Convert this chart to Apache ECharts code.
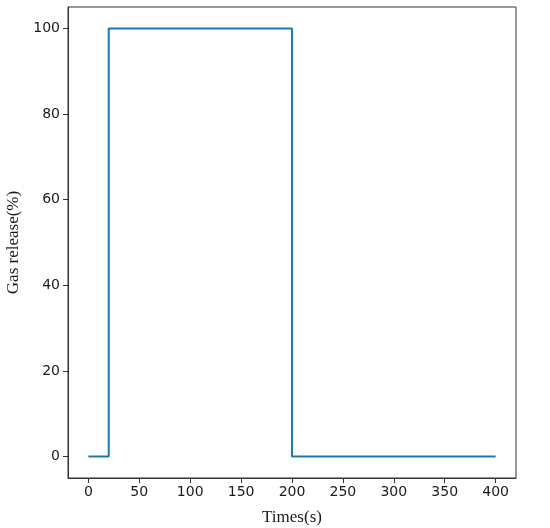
<!DOCTYPE html>
<html>
<head>
<meta charset="utf-8">
<script src="https://cdn.jsdelivr.net/npm/echarts@6/dist/echarts.min.js"></script>
<style>
  html, body { margin: 0; padding: 0; background: #fff; }
  #chart { width: 550px; height: 528px; }
</style>
</head>
<body>
<div id="chart"></div>
<script>
// step profile of the gas release
const times = [0, 20, 20, 200, 200, 400];
const release = [0, 0, 100, 100, 0, 0];
const xTicks = [0, 50, 100, 150, 200, 250, 300, 350, 400];
const yTicks = [0, 20, 40, 60, 80, 100];

const chart = echarts.init(document.getElementById('chart'));

const tickFont = { fontFamily: 'DejaVu Sans', fontSize: 14, color: '#1a1a1a' };
const nameFont = { fontFamily: 'Liberation Serif', fontSize: 17, color: '#1a1a1a' };

chart.setOption({
    animation: false,
    grid: {
        left: 68, right: 34, top: 7, bottom: 50,
        outerBoundsMode: 'none',
        containLabel: false,
        show: true, borderColor: '#333', borderWidth: 1
    },
    xAxis: {
        type: 'value',
        min: -20, max: 420,
        name: 'Times(s)',
        nameLocation: 'middle',
        nameGap: 31,
        nameTextStyle: nameFont,
        splitLine: { show: false },
        axisLine: { show: true, onZero: false, lineStyle: { color: '#333', width: 1 } },
        axisTick: { show: true, inside: false, length: 5, customValues: xTicks, lineStyle: { color: '#333' } },
        axisLabel: Object.assign({ margin: 7, customValues: xTicks }, tickFont)
    },
    yAxis: {
        type: 'value',
        min: -5, max: 105,
        name: 'Gas release(%)',
        nameLocation: 'middle',
        nameGap: 45,
        nameTextStyle: nameFont,
        splitLine: { show: false },
        axisLine: { show: true, onZero: false, lineStyle: { color: '#333', width: 1 } },
        axisTick: { show: true, inside: false, length: 5, customValues: yTicks, lineStyle: { color: '#333' } },
        axisLabel: Object.assign({ margin: 8, customValues: yTicks }, tickFont)
    },
    series: [{
        type: 'line',
        data: times.map((t, i) => [t, release[i]]),
        showSymbol: false,
        lineStyle: { color: '#1a7ab8', width: 2 }
    }]
});
</script>
</body>
</html>
